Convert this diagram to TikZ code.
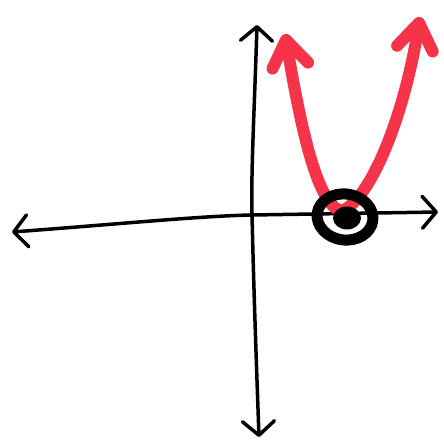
\documentclass[tikz,border=0pt]{standalone}
\usetikzlibrary{arrows.meta,shapes.geometric}
\definecolor{curvered}{RGB}{245,52,74}
\tikzset{
  axisline/.style={line width=3.5pt, line cap=round, arrows={Straight Barb[round,length=14pt,width=32pt]-Straight Barb[round,length=14pt,width=32pt]}},
  curveline/.style={curvered, line width=12pt, line cap=round, arrows={Straight Barb[round,length=26pt,width=36pt]-Straight Barb[round,length=26pt,width=36pt]}},
}

\begin{document}
\begin{tikzpicture}[x=1pt, y=-1pt]
  \useasboundingbox (0,0) rectangle (444,443);
  % axes (pixel grid of the sketch, y down)
  \coordinate (xl) at (12,232); \coordinate (xr) at (438,212);
  \coordinate (yt) at (257,25); \coordinate (yb) at (259,437);
  \coordinate (o) at (252,215);
  \draw[axisline] (xl) .. controls (120,224) and (200,216) .. (o) -- (xr);
  \draw[axisline] (yt) .. controls (254,120) and (251,170) .. (o) .. controls (254,300) and (257,380) .. (yb);
  % parabola
  \coordinate (al) at (285,34); \coordinate (ar) at (420,17);
  \coordinate (v) at (341,211);
  \draw[curveline] (al) .. controls (302,135) and (318,204) .. (v) .. controls (366,204) and (402,128) .. (ar);
  % vertex marked
  \node[draw, ellipse, line width=11pt, minimum width=56pt, minimum height=46pt, rotate=-8] (ring) at (345,217) {};
  \node[fill, ellipse, minimum width=28pt, minimum height=23pt, inner sep=0pt] (pt) at (347,218) {};
\end{tikzpicture}
\end{document}
